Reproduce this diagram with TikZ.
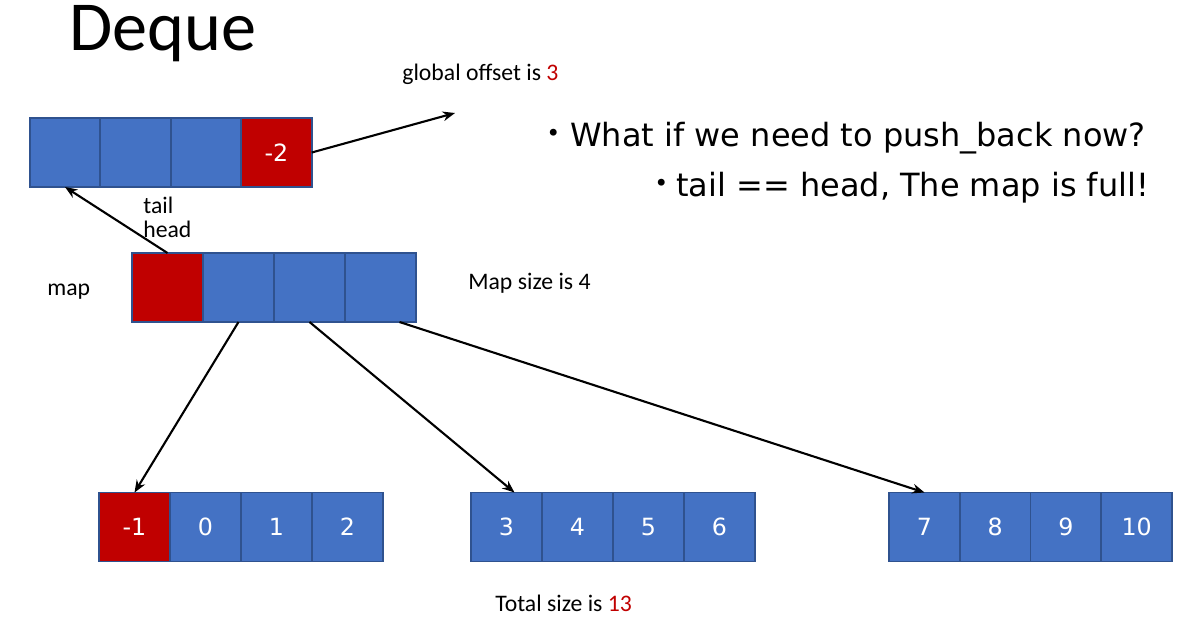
\documentclass[tikz,border=0pt]{standalone}
\usepackage{fontspec}
\setmainfont{Carlito}
\newfontfamily\verd{DejaVu Sans}
\usetikzlibrary{calc,arrows.meta}
\definecolor{cellblue}{HTML}{4472C4}
\definecolor{cellred}{HTML}{C00000}
\definecolor{celledge}{HTML}{2F528F}
\newcommand{\bulletdot}{\raisebox{0.25ex}{\fontsize{13.5}{13.5}\selectfont •}}

\begin{document}
\begin{tikzpicture}[x=0.02cm,y=-0.02cm,
  cell/.style={draw=celledge,fill=cellblue,line width=0.9pt,minimum width=1.41cm,minimum height=1.38cm,
    inner sep=0pt,outer sep=0pt,text=white,font=\verd\fontsize{13.5}{15}\selectfont},
  redcell/.style={cell,fill=cellred},
  lbl/.style={font=\fontsize{13.5}{16}\selectfont,inner sep=0pt,anchor=base west},
  bul/.style={font=\verd\fontsize{18.2}{22}\selectfont,inner sep=0pt,anchor=base west},
  ptr/.style={line width=1.2pt,-{Stealth[length=7pt,width=5.5pt]}}]
\useasboundingbox (0,0) rectangle (1200,620);
\node[anchor=base west,inner sep=0pt,font=\fontsize{40}{44}\selectfont] (title) at (69,50) {Deque};
% the block at the front
\foreach \k in {1,2,3}{\node[cell] (top\k) at ({65+70.5*(\k-1)},152.5) {};}
\node[redcell] (top4) at (276.5,152.5) {-2};
% the map
\node[redcell] (map1) at (167.5,287.5) {};
\foreach \k in {2,3,4}{\node[cell] (map\k) at ({167.5+71*(\k-1)},287.5) {};}
% the blocks
\node[redcell] (b0) at (134.5,527) {-1};
\foreach \v [count=\i] in {0,1,2}{\node[cell] (b\i) at ({134.5+71*\i},527) {\v};}
\foreach \v [count=\i from 0] in {3,...,6}{\node[cell] (b\v) at ({506.5+71*\i},527) {\v};}
\foreach \v [count=\i from 0] in {7,...,10}{\node[cell] (b\v) at ({924.5+70.7*\i},527) {\v};}
% labels
\node[lbl] (offset) at (402,80) {global offset is \textcolor{cellred}{3}};
\node[lbl] (tail) at (143,213) {tail};
\node[lbl] (head) at (143,237) {head};
\node[lbl] (maplbl) at (47,295) {map};
\node[lbl] (mapsize) at (468,289) {Map size is 4};
\node[lbl] (total) at (495,611) {Total size is \textcolor{cellred}{13}};
\node[bul] (q1) at (546,146) {\makebox[0.48cm][l]{\bulletdot}What if we need to push\_back now?};
\node[bul] (q2) at (654,196) {\makebox[0.44cm][l]{\bulletdot}tail == head, The map is full!};
% pointers
\coordinate (offtip) at (455,113);
\draw[ptr] (top4.east) -- (offtip);
\draw[ptr] (map1.north) -- (top1.south);
\draw[ptr] (map2.south) -- (b0.north);
\draw[ptr] (map3.south) -- ($(b3.north)+(8,0)$);
\draw[ptr] ($(map4.south)+(19,0)$) -- (b7.north);
\end{tikzpicture}
\end{document}
